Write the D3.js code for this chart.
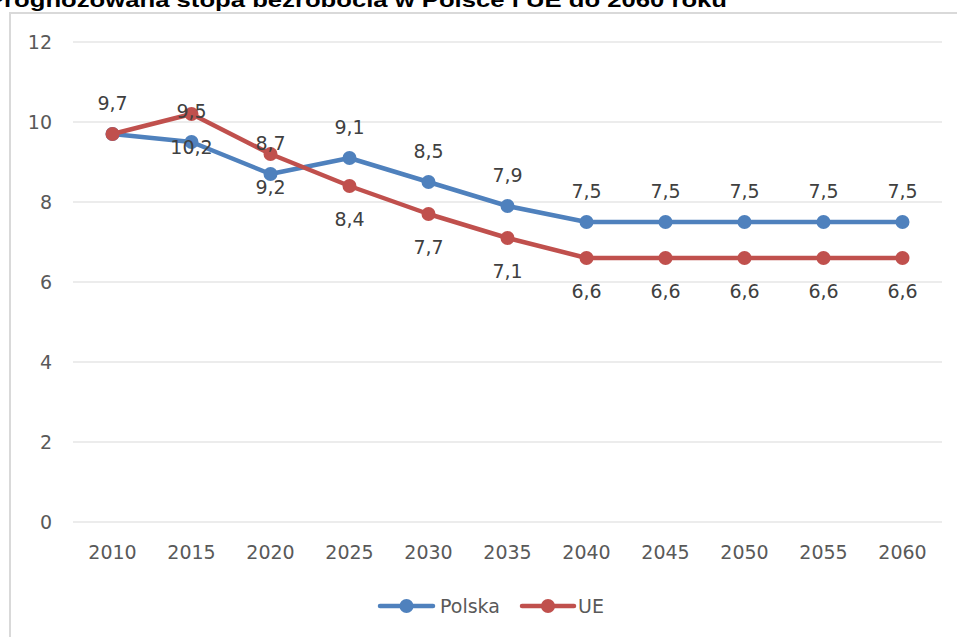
<!DOCTYPE html>
<html>
<head>
<meta charset="utf-8">
<title>Prognozowana stopa bezrobocia</title>
<script src="https://cdn.jsdelivr.net/npm/d3@7"></script>
<style>
  body { margin: 0; background: #fff; }
  text { font-family: "DejaVu Sans", sans-serif; }
</style>
</head>
<body>
<svg id="chart" width="957" height="637"></svg>
<script>
// data
var years = ["2010", "2015", "2020", "2025", "2030", "2035", "2040", "2045", "2050", "2055", "2060"];
var polska = [9.7, 9.5, 8.7, 9.1, 8.5, 7.9, 7.5, 7.5, 7.5, 7.5, 7.5];
var ue = [9.7, 10.2, 9.2, 8.4, 7.7, 7.1, 6.6, 6.6, 6.6, 6.6, 6.6];
// labels as they appear in the chart (swapped at 2015/2020)
var polskaLabels = ["9,7", "9,5", "8,7", "9,1", "8,5", "7,9", "7,5", "7,5", "7,5", "7,5", "7,5"];
var ueLabels = ["", "10,2", "9,2", "8,4", "7,7", "7,1", "6,6", "6,6", "6,6", "6,6", "6,6"];
var yTicks = [0, 2, 4, 6, 8, 10, 12];
var title = "Prognozowana stopa bezrobocia w Polsce i UE do 2060 roku";

var svg = d3.select("#chart");

// outer frame of the chart
svg.append("rect")
	.attr("x", 10).attr("y", 13)
	.attr("width", 960).attr("height", 640)
	.attr("fill", "none")
	.attr("stroke", "#d9d9d9")
	.attr("stroke-width", 2);

// title, partially clipped at the top (as in the source)
svg.append("text")
	.attr("x", -13).attr("y", 6.5)
	.attr("textLength", 740)
	.attr("lengthAdjust", "spacingAndGlyphs")
	.style("font-family", "'Liberation Sans', Arial, sans-serif")
	.style("font-weight", "bold")
	.style("font-size", "21px")
	.attr("fill", "#000")
	.text(title);

var x = d3.scaleBand().domain(years).range([73, 942]);
var y = d3.scaleLinear().domain([0, 12]).range([522, 42]);
var cx = function(d) { return x(d) + x.bandwidth() / 2; };

// gridlines
svg.append("g")
	.selectAll("line")
	.data(yTicks)
	.enter().append("line")
	.attr("x1", 73).attr("x2", 942)
	.attr("y1", function(d) { return y(d); })
	.attr("y2", function(d) { return y(d); })
	.attr("stroke", "#d9d9d9")
	.attr("stroke-width", 1);

// y axis labels
var yAxis = d3.axisLeft(y).tickValues(yTicks).tickSize(0).tickPadding(0);
var gy = svg.append("g")
	.attr("transform", "translate(52,0)")
	.call(yAxis);
gy.select(".domain").remove();
gy.selectAll("text")
	.style("font-family", "'DejaVu Sans', sans-serif")
	.style("font-size", "19px")
	.attr("fill", "#595959");

// x axis labels
var xAxis = d3.axisBottom(x).tickSize(0).tickPadding(0);
var gx = svg.append("g")
	.attr("transform", "translate(0,545)")
	.call(xAxis);
gx.select(".domain").remove();
gx.selectAll("text")
	.attr("dy", "0.71em")
	.style("font-family", "'DejaVu Sans', sans-serif")
	.style("font-size", "19px")
	.attr("fill", "#595959");

var series = [
	{ name: "Polska", values: polska, labels: polskaLabels, color: "#4F81BD", dy: -24 },
	{ name: "UE", values: ue, labels: ueLabels, color: "#C0504D", dy: 40 }
];

var line = d3.line()
	.x(function(d, i) { return cx(years[i]); })
	.y(function(d) { return y(d); });

series.forEach(function(s) {
	svg.append("path")
		.attr("d", line(s.values))
		.attr("fill", "none")
		.attr("stroke", s.color)
		.attr("stroke-width", 4.5)
		.attr("stroke-linejoin", "round");

	svg.append("g")
		.selectAll("circle")
		.data(s.values)
		.enter().append("circle")
		.attr("cx", function(d, i) { return cx(years[i]); })
		.attr("cy", function(d) { return y(d); })
		.attr("r", 7)
		.attr("fill", s.color);
});

series.forEach(function(s) {
	svg.append("g")
		.selectAll("text")
		.data(s.values)
		.enter().append("text")
		.attr("x", function(d, i) { return cx(years[i]); })
		.attr("y", function(d) { return y(d) + s.dy; })
		.attr("text-anchor", "middle")
		.style("font-size", "19px")
		.attr("fill", "#404040")
		.text(function(d, i) { return s.labels[i]; });
});

// legend
var legend = [
	{ name: "Polska", color: "#4F81BD", x1: 380, x2: 433, tx: 440 },
	{ name: "UE", color: "#C0504D", x1: 522, x2: 574, tx: 578 }
];
var lg = svg.append("g");
legend.forEach(function(l) {
	lg.append("line")
		.attr("x1", l.x1).attr("x2", l.x2)
		.attr("y1", 606).attr("y2", 606)
		.attr("stroke", l.color)
		.attr("stroke-width", 4.5)
		.attr("stroke-linecap", "round");
	lg.append("circle")
		.attr("cx", (l.x1 + l.x2) / 2).attr("cy", 606)
		.attr("r", 7)
		.attr("fill", l.color);
	lg.append("text")
		.attr("x", l.tx).attr("y", 613)
		.style("font-size", "19px")
		.attr("fill", "#595959")
		.text(l.name);
});
</script>
</body>
</html>
